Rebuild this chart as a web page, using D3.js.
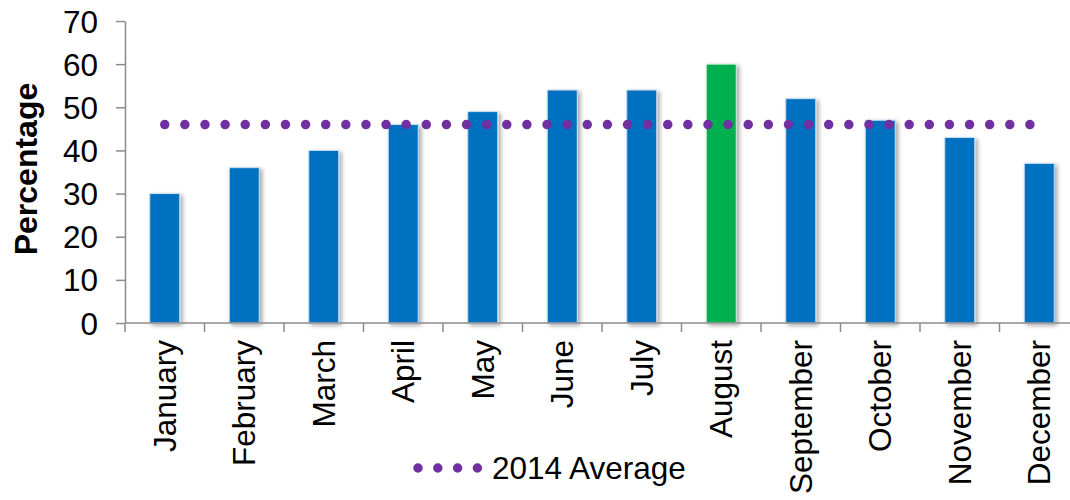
<!DOCTYPE html>
<html>
<head>
<meta charset="utf-8">
<script src="https://cdn.jsdelivr.net/npm/d3@7/dist/d3.min.js"></script>
<style>
  html, body { margin: 0; padding: 0; background: #ffffff; }
  svg { display: block; font-family: "Liberation Sans", Arial, sans-serif; }
</style>
</head>
<body>
<svg id="chart" width="1070" height="500"></svg>
<script>
const months = ["January","February","March","April","May","June","July","August","September","October","November","December"];
const values = [30, 36, 40, 46, 49, 54, 54, 60, 52, 47, 43, 37];
const highlightMonth = "August";
const averageValue = 46;
const averageLabel = "2014 Average";
const yTicks = [0, 10, 20, 30, 40, 50, 60, 70];
const yTitle = "Percentage";

(function () {
const svg = d3.select("#chart");
const plotLeft = 125, plotBottom = 323, plotTop = 21, bandW = 79.5;
const axisColor = "#8c8c8c";
const fs = 31.5;

const x = d3.scaleBand().domain(months).range([plotLeft, plotLeft + bandW * months.length]).padding(0);
const y = d3.scaleLinear().domain([0, 70]).range([plotBottom, plotTop]);

const defs = svg.append("defs");
const f = defs.append("filter").attr("id", "shadow").attr("x", "-30%").attr("y", "-10%").attr("width", "160%").attr("height", "130%");
f.append("feDropShadow").attr("dx", 2.5).attr("dy", 2).attr("stdDeviation", 2).attr("flood-color", "#000").attr("flood-opacity", 0.35);

// Bars
const barW = 30;
svg.append("g").selectAll("rect").data(months).join("rect")
  .attr("x", d => x(d) + x.bandwidth() / 2 - barW / 2)
  .attr("y", (d, i) => y(values[i]))
  .attr("width", barW)
  .attr("height", (d, i) => plotBottom - y(values[i]))
  .attr("fill", d => d === highlightMonth ? "#00B050" : "#0070C0")
  .attr("stroke", d => d === highlightMonth ? "#c8f0d6" : "#c9def2")
  .attr("stroke-width", 1)
  .attr("filter", "url(#shadow)");

// Y axis
const yAxis = d3.axisLeft(y).tickValues(yTicks).tickSize(9).tickSizeOuter(0).tickPadding(18);
const gy = svg.append("g").attr("transform", `translate(${plotLeft},0)`).call(yAxis);
gy.select(".domain").attr("stroke", axisColor).attr("stroke-width", 1.5);
gy.selectAll(".tick line").attr("stroke", axisColor).attr("stroke-width", 1.5);
gy.selectAll(".tick text").attr("font-size", fs).attr("fill", "#000").attr("font-family", "Liberation Sans, Arial, sans-serif").attr("dy", "0.35em");

// X axis
const xAxis = d3.axisBottom(x).tickSize(0).tickFormat(() => "");
const gx = svg.append("g").attr("transform", `translate(0,${plotBottom})`).call(xAxis);
gx.select(".domain").remove();
gx.append("line").attr("x1", plotLeft).attr("x2", 1070).attr("y1", 0).attr("y2", 0).attr("stroke", axisColor).attr("stroke-width", 1.5);
const bounds = months.map(m => x(m)).concat([x(months[months.length-1]) + x.bandwidth()]);
gx.selectAll("line.b").data(bounds).join("line").attr("class", "b")
  .attr("x1", d => d).attr("x2", d => d).attr("y1", 0).attr("y2", 9)
  .attr("stroke", axisColor).attr("stroke-width", 1.5);

// X labels
svg.append("g").selectAll("text").data(months).join("text")
  .attr("transform", d => `translate(${x(d) + x.bandwidth() / 2},340) rotate(-90)`)
  .attr("text-anchor", "end")
  .attr("dy", "0.35em")
  .attr("font-size", fs)
  .attr("fill", "#000")
  .text(d => d);

// Y title
svg.append("text")
  .attr("transform", "translate(26,169) rotate(-90)")
  .attr("text-anchor", "middle")
  .attr("dy", "0.35em")
  .attr("font-size", 32)
  .attr("font-weight", "bold")
  .attr("fill", "#000")
  .text(yTitle);

// Average dotted line
const avgPurple = "#7030A0";
const cx0 = x(months[0]) + x.bandwidth() / 2;
const cx1 = x(months[months.length - 1]) + x.bandwidth() / 2;
svg.append("line")
  .attr("x1", cx0).attr("x2", cx1).attr("y1", y(averageValue)).attr("y2", y(averageValue))
  .attr("stroke", avgPurple).attr("stroke-width", 9.5).attr("stroke-linecap", "round")
  .attr("stroke-dasharray", "0 20.12");

// Legend
svg.append("line")
  .attr("x1", 418).attr("x2", 477.5).attr("y1", 468).attr("y2", 468)
  .attr("stroke", avgPurple).attr("stroke-width", 9.5).attr("stroke-linecap", "round")
  .attr("stroke-dasharray", "0 19.8");
svg.append("text")
  .attr("x", 492).attr("y", 468).attr("dy", "0.35em")
  .attr("font-size", fs).attr("fill", "#000")
  .text(averageLabel);
})();
</script>
</body>
</html>
